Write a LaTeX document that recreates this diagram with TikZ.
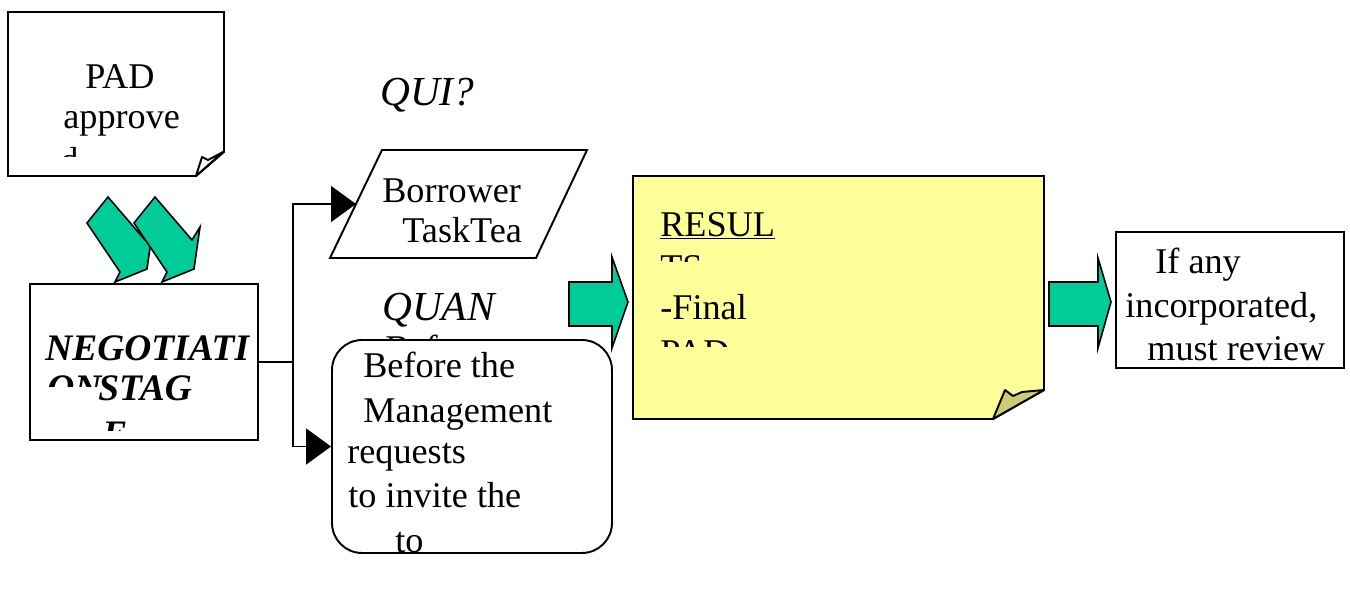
\documentclass[tikz,border=0pt]{standalone}
\usepackage{fontspec}
\setmainfont{Liberation Serif}
\usetikzlibrary{arrows.meta}

\definecolor{arrowgreen}{HTML}{00CC99}
\definecolor{noteyellow}{HTML}{FFFF99}
\definecolor{foldkhaki}{HTML}{CCCC77}

\tikzset{
  txt/.style={anchor=base west, inner sep=0pt, font=\fontsize{20.6}{24}\selectfont},
  bigtxt/.style={anchor=base west, inner sep=0pt, font=\fontsize{23.5}{28}\selectfont\itshape},
  boldtxt/.style={anchor=base west, inner sep=0pt, font=\fontsize{21.3}{24}\selectfont\bfseries\itshape},
  box/.style={draw, line width=1.1pt, fill=white},
  blockarrow/.style={draw, line width=0.9pt, fill=arrowgreen, line join=miter},
  link/.style={line width=0.9pt, -{Triangle[length=0.5cm,width=0.72cm]}},
}

\begin{document}
\begin{tikzpicture}[x=0.02cm,y=-0.02cm]
\fill[white] (0,0) rectangle (1350,605);
\useasboundingbox (0,0) rectangle (1350,605);

% PAD note with folded corner
\draw[box] (8,12) -- (224,12) -- (224,152) -- (196,176) -- (8,176) -- cycle;
\draw[box, line join=round] (196,176) -- (202,157) -- (208,160) -- (223,152) -- cycle;
\node[txt] (pad) at (85,88) {PAD};
\node[txt] (approve) at (63,128) {approve};
\begin{scope}
  \clip (0,0) rectangle (1350,156);
  \node[txt] (approvetail) at (60,172) {d};
\end{scope}

% green chevrons
\foreach \dx in {0,47} {
  \draw[blockarrow] (87+\dx,223) -- (108+\dx,197) -- (145+\dx,240) -- (153+\dx,227)
    -- (147+\dx,269) -- (115+\dx,282) -- (120+\dx,272) -- cycle;
}

% negotiation stage
\node[box, minimum width=4.56cm, minimum height=3.12cm] (negbox) at (144,362) {};
\node[boldtxt] (negl1) at (45,360) {NEGOTIATI};
\begin{scope}
  \clip (0,0) rectangle (1350,386);
  \node[boldtxt] (negl2a) at (47,400) {ON};
\end{scope}
\node[boldtxt] (negl2) at (98,400) {STAG};
\begin{scope}
  \clip (0,0) rectangle (1350,430);
  \node[boldtxt] (negl3) at (102,446) {E};
\end{scope}

% who / when
\node[bigtxt] (qui) at (380,105) {QUI?};
\node[bigtxt] (quan) at (382,320) {QUAN};
\begin{scope}
  \clip (0,0) rectangle (1350,340);
  \node[txt] (quantail) at (385,360) {Before};
\end{scope}

\draw[box] (382,150) -- (587,150) -- (536,258) -- (330,258) -- cycle;
\coordinate (borrowin) at (356,204);
\node[txt] (borrower) at (382,202) {Borrower};
\node[txt] (taskteam) at (402,242) {TaskTea};

\node[box, rounded corners=0.6cm, minimum width=5.6cm, minimum height=4.26cm] (before) at (472,446.5) {};
\node[txt] (beforel1) at (363,377) {Before the};
\node[txt] (beforel2) at (363,422) {Management};
\node[txt] (beforel3) at (347,463) {requests};
\node[txt] (beforel4) at (348,507) {to invite the};
\node[txt] (beforel5) at (395,552) {to};

% connectors
\coordinate (fork) at (293,362);
\draw[line width=0.9pt] (negbox.east) -- (fork);
\draw[link] (fork) |- (borrowin);
\draw[link] (fork) |- (before.west);

% results note
\draw[blockarrow] (569,282) -- (612,282) -- (612,257) -- (628,302) -- (612,348) -- (612,326) -- (569,326) -- cycle;
\draw[box, fill=noteyellow] (633,176) -- (1044,176) -- (1044,390) -- (993,419) -- (633,419) -- cycle;
\draw[box, fill=foldkhaki, line join=round] (993,419) -- (1005,390) -- (1013,396) -- (1022,392) -- (1044,390) -- cycle;
\node[txt] (results) at (660,236) {\underline{RESUL}};
\begin{scope}
  \clip (0,0) rectangle (1350,261);
  \node[txt] (resultstail) at (660,279) {TS};
\end{scope}
\node[txt] (final) at (660,319) {-Final};
\begin{scope}
  \clip (0,0) rectangle (1350,346);
  \node[txt] (finaltail) at (660,364) {PAD};
\end{scope}

% review box
\draw[blockarrow] (1049,282) -- (1098,282) -- (1098,258) -- (1111,302) -- (1098,348) -- (1098,326) -- (1049,326) -- cycle;
\node[box, minimum width=4.56cm, minimum height=2.72cm] (review) at (1230,300) {};
\node[txt] (reviewl1) at (1155,273) {If any};
\node[txt] (reviewl2) at (1125,317) {incorporated,};
\node[txt] (reviewl3) at (1147,360) {must review};
\end{tikzpicture}
\end{document}
